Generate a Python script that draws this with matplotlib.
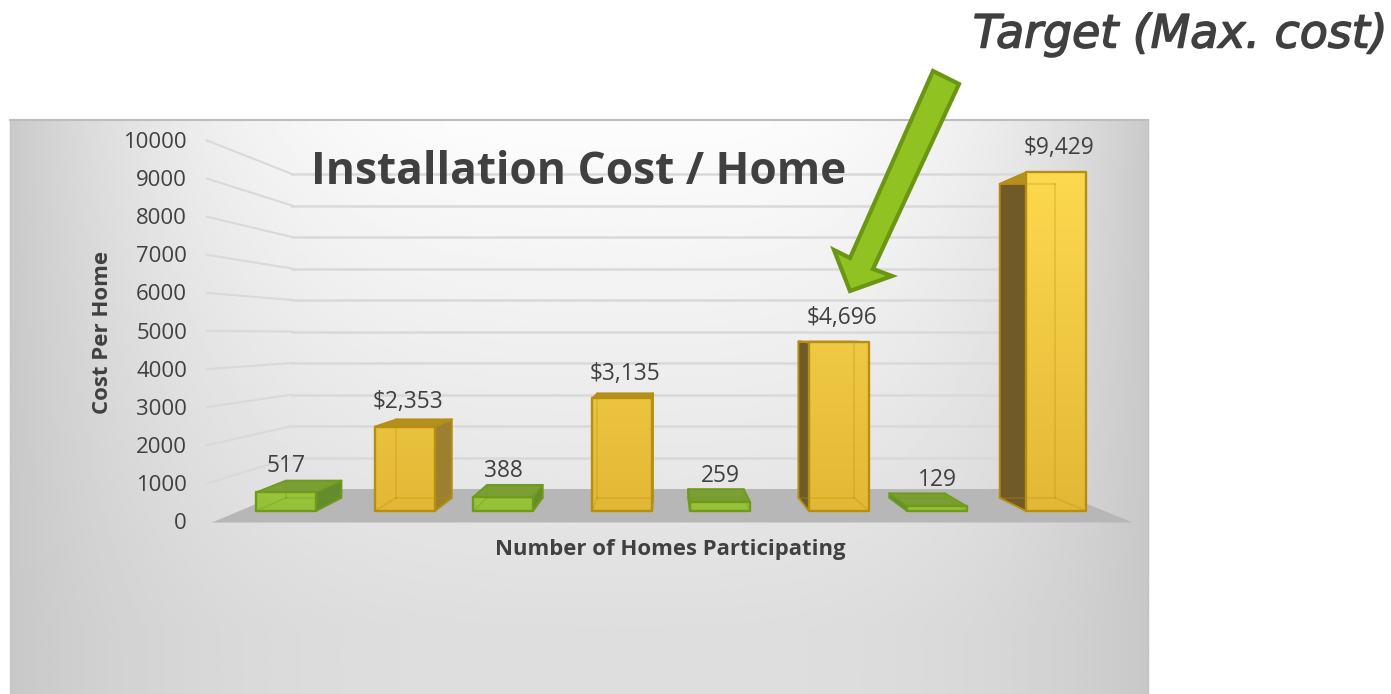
import numpy as np
import matplotlib
matplotlib.use("Agg")
import matplotlib.pyplot as plt
import matplotlib.patheffects as pe
from matplotlib.patches import Polygon

# chart values
green_values = [517, 388, 259, 129]
yellow_values = [2353, 3135, 4696, 9429]
green_labels = ["517", "388", "259", "129"]
yellow_labels = ["$2,353", "$3,135", "$4,696", "$9,429"]
y_ticks = [0, 1000, 2000, 3000, 4000, 5000, 6000, 7000, 8000, 9000, 10000]

title = "Installation Cost / Home"
x_title = "Number of Homes Participating"
y_title = "Cost Per Home"
callout = "Target (Max. cost)"

# the 3d look, in pixels
W, H = 1391, 694
PANEL = (10, 1148, 120, 694)
BASE_Y = 511
PX_PER_UNIT = 0.0359
BAR_W = 60
GROUP_STEP = 217
GREEN_X0 = 256
YELLOW_X0 = 375
VP_X, VP_Y, DEPTH = 665, 330, 0.927

TEXT = "#404040"
FONT = "Open Sans"


def to_back(x, y):
    return VP_X + (x - VP_X) * DEPTH, VP_Y + (y - VP_Y) * DEPTH


def front_tick_y(v):
    return 521.5 - v * 0.0381


def back_tick_y(v):
    return 489 - v * 0.0315


def draw_bar(ax, x0, value, edge, top_c, side_c, c_top, c_bot):
    x1 = x0 + BAR_W
    y_top = BASE_Y - value * PX_PER_UNIT
    fl, ft = (x0, y_top), (x1, y_top)
    bl, br = (x0, BASE_Y), (x1, BASE_Y)
    tl_b, tr_b = to_back(*fl), to_back(*ft)
    bl_b, br_b = to_back(*bl), to_back(*br)

    if tl_b[0] < x0:
        ax.add_patch(Polygon([fl, tl_b, bl_b, bl], fc=side_c, ec=edge, lw=1.3, zorder=4, joinstyle="round"))
    if tr_b[0] > x1:
        ax.add_patch(Polygon([ft, tr_b, br_b, br], fc=side_c, ec=edge, lw=1.3, zorder=4, joinstyle="round"))
    ax.add_patch(Polygon([fl, ft, tr_b, tl_b], fc=top_c, ec=edge, lw=1.3, zorder=4, joinstyle="round"))

    # front face, colour fades with height on the chart
    rows = np.linspace(0, 1, 64).reshape(-1, 1, 1)
    grad = np.array(c_top).reshape(1, 1, 3) * (1 - rows) + np.array(c_bot).reshape(1, 1, 3) * rows
    ax.imshow(grad, extent=(x0, x1, BASE_Y, y_top), aspect="auto", zorder=5, interpolation="bilinear")

    # hidden edges show through the glassy fill
    for a, b in [(tl_b, tr_b), (tl_b, bl_b), (tr_b, br_b), (bl_b, br_b), (bl, bl_b), (br, br_b)]:
        ax.plot([a[0], b[0]], [a[1], b[1]], color=edge, lw=1.2, alpha=0.3, zorder=6)
    ax.add_patch(Polygon([fl, ft, br, bl], fc="none", ec=edge, lw=1.7, zorder=7, joinstyle="round"))
    return y_top


plt.rcParams["font.family"] = [FONT, "DejaVu Sans"]
fig = plt.figure(figsize=(W / 100, H / 100), dpi=100, facecolor="white")
ax = fig.add_axes([0, 0, 1, 1])
ax.axis("off")

# panel background
px0, px1, py0, py1 = PANEL
xx, yy = np.meshgrid(np.linspace(px0, px1, 300), np.linspace(py0, py1, 200))
down = np.clip((yy - 130) / 500, 0, 1)
across = np.where(xx < 620, (620 - xx) / 610, (xx - 620) / 528)
shade = (252 - 30 * down - across ** 3.2 * (50 - 28 * down)) / 255
ax.imshow(shade, extent=(px0, px1, py1, py0), cmap="gray", vmin=0, vmax=1, aspect="auto", zorder=0)
ax.plot([px0, px1], [py0, py0], color="#bdbdbd", lw=1.5, zorder=1)
ax.plot([px1, px1], [py0, py1], color="#c0c0c0", lw=1.0, zorder=1)
ax.plot([px0, px0], [py0, py1], color="#c4c4c4", lw=1.0, zorder=1)

# floor
ax.add_patch(Polygon([(212, 522.5), (1133, 522.5), (1050, 489), (292, 489)], fc="#b7b7b7", ec="none", zorder=1))

# walls gridlines
for v in y_ticks[1:]:
    ax.plot([207, 292], [front_tick_y(v), back_tick_y(v)], color="#d9d9d9", lw=1.5, zorder=2)
    ax.plot([292, 1050], [back_tick_y(v), back_tick_y(v)], color="#d9d9d9", lw=1.8, zorder=2)

for v in y_ticks:
    ax.text(187, front_tick_y(v) + 2, str(v), ha="right", va="center", fontsize=15.9, color=TEXT, zorder=8)

for i, (v, lab) in enumerate(zip(green_values, green_labels)):
    x0 = GREEN_X0 + i * GROUP_STEP
    top = draw_bar(ax, x0, v, "#6f9a1c", "#7b9f35", "#638c2c", (0.60, 0.77, 0.23), (0.58, 0.75, 0.22))
    ax.text(x0 + BAR_W / 2, top - 26, lab, ha="center", va="center", fontsize=16.4, color=TEXT, zorder=8)

for i, (v, lab) in enumerate(zip(yellow_values, yellow_labels)):
    x0 = YELLOW_X0 + i * GROUP_STEP
    y_top = BASE_Y - v * PX_PER_UNIT
    # colour runs from bar base up, brighter the taller the bar is
    t = (BASE_Y - y_top) / (BASE_Y - 172)
    c_top = (0.89 + 0.10 * t, 0.73 + 0.12 * t, 0.22 + 0.09 * t)
    side = "#6f5a28" if i >= 2 else "#9c8030"
    top = draw_bar(ax, x0, v, "#b58e12", "#b3901f", side, c_top, (0.89, 0.72, 0.21))
    ax.text(x0 + BAR_W / 2 + 3, top - 24.5, lab, ha="center", va="center", fontsize=16.4, color=TEXT, zorder=8)

# titles
ax.text(579, 172, title, ha="center", va="center", fontsize=31.9, fontweight="bold", color=TEXT, zorder=8)
ax.text(670.5, 549.5, x_title, ha="center", va="center", fontsize=15.9, fontweight="bold", color=TEXT, zorder=8)
ax.text(102, 332, y_title, ha="center", va="center", rotation=90, fontsize=16, fontweight="bold", color=TEXT, zorder=8)

# callout
ax.add_patch(Polygon([(933, 71), (959, 84), (873, 269), (892, 276), (850, 291), (834, 250), (850, 258)],
                     fc="#90c322", ec="#6b9614", lw=3, zorder=9, joinstyle="miter"))
ax.text(1180.5, 35, callout, ha="center", va="center", fontsize=33, fontstyle="italic", color=TEXT,
        family=["DejaVu Sans"], zorder=10,
        path_effects=[pe.withStroke(linewidth=1.1, foreground=TEXT)])

ax.set_xlim(0, W)
ax.set_ylim(H, 0)
fig.savefig("out.png", dpi=100)
